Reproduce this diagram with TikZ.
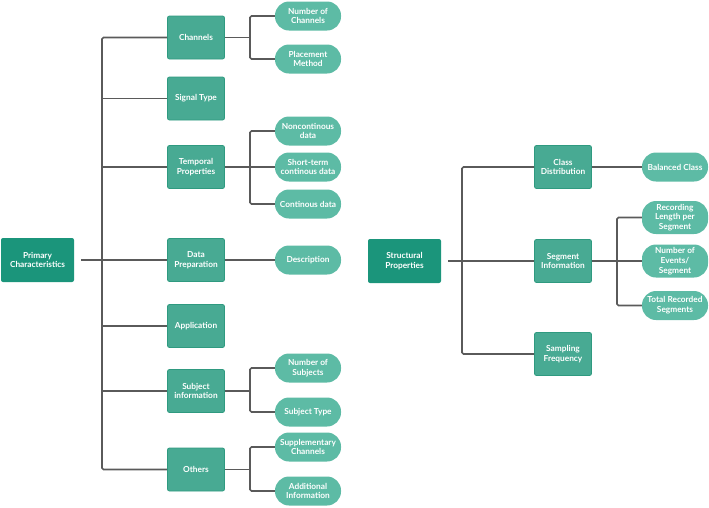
\documentclass[tikz,border=0pt]{standalone}
\usepackage{fontspec}
\setmainfont{Lato}
\usetikzlibrary{positioning}

\definecolor{rootteal}{HTML}{1B957B}
\definecolor{boxteal}{HTML}{48AA93}
\definecolor{boxedge}{HTML}{2F9A80}
\definecolor{pillteal}{HTML}{5DBBA5}
\definecolor{linegray}{HTML}{5A5A5A}

\tikzset{
  base/.style={text=white, font=\fontsize{8.3}{9.7}\selectfont\bfseries,
    align=center, inner sep=1pt},
  rootbox/.style={base, fill=rootteal, rounded corners=2pt,
    minimum width=73pt, minimum height=44pt},
  subbox/.style={base, fill=boxteal, draw=boxedge, line width=0.8pt,
    rounded corners=2pt, minimum width=57pt, minimum height=43pt},
  leaf/.style={base, fill=pillteal, rounded corners=14pt,
    minimum width=66pt, minimum height=29pt},
  conn/.style={draw=linegray, line width=1.6pt},
}

\begin{document}
\begin{tikzpicture}[x=1pt, y=-1pt]
\useasboundingbox (0,0) rectangle (709,507);

%--- Roots ---
\node[rootbox] (prim)  at (37.5,260) {Primary\\Characteristics};
\node[rootbox] (struc) at (404.5,261) {Structural\\Properties};

%--- Primary: second level ---
\foreach \nm/\yy/\txt in {chan/37.5/{Channels}, sig/98.5/{Signal Type},
    temp/167/{Temporal\\Properties}, prep/260/{Data\\Preparation},
    app/326/{Application}, subj/391/{Subject\\information}, oth/469.5/{Others}}
  \node[subbox] (\nm) at (196,\yy) {\txt};

%--- Primary: leaves ---
\foreach \nm/\yy/\txt in {nch/16/{Number of\\Channels}, pm/59/{Placement\\Method},
    ncd/131/{Noncontinous\\data}, stc/167/{Short-term\\continous data},
    cd/204/{Continous data}, desc/260/{Description},
    nsub/368/{Number of\\Subjects}, stype/412/{Subject Type},
    supp/447/{Supplementary\\Channels}, addi/491/{Additional\\Information}}
  \node[leaf] (\nm) at (308,\yy) {\txt};

%--- Structural: second level and leaves ---
\node[subbox] (cdist) at (563,167) {Class\\Distribution};
\node[subbox] (seg)   at (563,261) {Segment\\Information};
\node[subbox] (samp)  at (563,354) {Sampling\\Frequency};

\node[leaf] (bal)  at (675,167) {Balanced Class};
\node[leaf, minimum height=33pt] (rlen) at (675,217.5) {Recording\\Length per\\Segment};
\node[leaf, minimum height=33pt] (nev)  at (675,261) {Number of\\Events/\\Segment};
\node[leaf] (trec) at (675,305.5) {Total Recorded\\Segments};

%--- Junctions ---
\coordinate (ptrunk) at (102,260);
\coordinate (pj) at (250,0);
\coordinate (strunk) at (462,261);
\coordinate (sj) at (617,0);

%--- Primary connectors ---
\draw[conn, rounded corners=1.5pt] (chan.west) -| (ptrunk) |- (oth.west);
\draw[conn, shorten <=7pt] (prim.east) -- (prep.west);
\foreach \nm in {sig,temp,app,subj}
  \draw[conn] (ptrunk |- \nm.west) -- (\nm.west);

\foreach \src/\ta/\tb in {chan/nch/pm, temp/ncd/cd, subj/nsub/stype, oth/supp/addi}{
  \draw[conn] (\src.east) -- (pj |- \src.east);
  \draw[conn, rounded corners=1.5pt] (\ta.west) -| (pj |- \src.east) |- (\tb.west);
}
\draw[conn] (temp.east) -- (stc.west);
\draw[conn] (prep.east) -- (desc.west);

%--- Structural connectors ---
\draw[conn, rounded corners=1.5pt] (cdist.west) -| (strunk) |- (samp.west);
\draw[conn, shorten <=7pt] (struc.east) -- (seg.west);
\draw[conn] (cdist.east) -- (bal.west);
\draw[conn] (seg.east) -- (nev.west);
\draw[conn, rounded corners=1.5pt] (rlen.west) -| (sj |- seg.east) |- (trec.west);

\end{tikzpicture}
\end{document}
